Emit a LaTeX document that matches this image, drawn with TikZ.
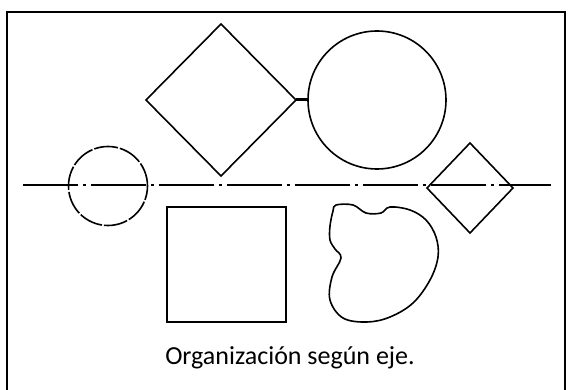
\documentclass[tikz,border=0pt]{standalone}
\usepackage{fontspec}
\setmainfont{Carlito}
\usetikzlibrary{shapes.geometric}

\begin{document}
\begin{tikzpicture}[x=1pt, y=-1pt,
  outline/.style={draw, line width=1.6pt, inner sep=0pt, outer sep=0pt},
  axisline/.style={line width=1.8pt, dash pattern=on 55pt off 5pt on 3pt off 5pt},
  caption/.style={font=\fontsize{26}{30}\selectfont}
]
\useasboundingbox (0,0) rectangle (571,390);
\draw[line width=1.2pt] (7,390) -- (7,12) -- (565,12) -- (565,390);

\coordinate (axl) at (23,185);
\coordinate (axr) at (551,185);
\draw[axisline] (axl) -- (axr);

\node[outline, circle, minimum size=79pt, dash pattern=on 24pt off 2pt] (smallcirc) at (108,186) {};
\node[outline, diamond, minimum width=150pt, minimum height=152pt] (bigdia) at (221,100) {};
\node[outline, circle, minimum size=138pt] (bigcirc) at (377,100) {};
\node[outline, diamond, minimum width=86pt, minimum height=90pt] (smalldia) at (470,188) {};
\node[outline, rectangle, minimum width=119pt, minimum height=115pt] (square) at (226.5,264.5) {};

\draw[line width=3pt] (bigdia.east) -- (bigcirc.west);

% free-form shape
\draw[line width=1.6pt] plot[smooth cycle, tension=0.6] coordinates {
  (336,205) (353,205) (366,213) (381,213) (390,207) (410,210) (426,220)
  (436,237) (438,257) (430,280) (413,303) (390,317) (367,322) (343,318)
  (330,300) (332,277) (341,258) (335,249) (330,240) (330,226) (333,211)};

\node[caption] (title) at (290,358) {Organización según eje.};
\end{tikzpicture}
\end{document}
